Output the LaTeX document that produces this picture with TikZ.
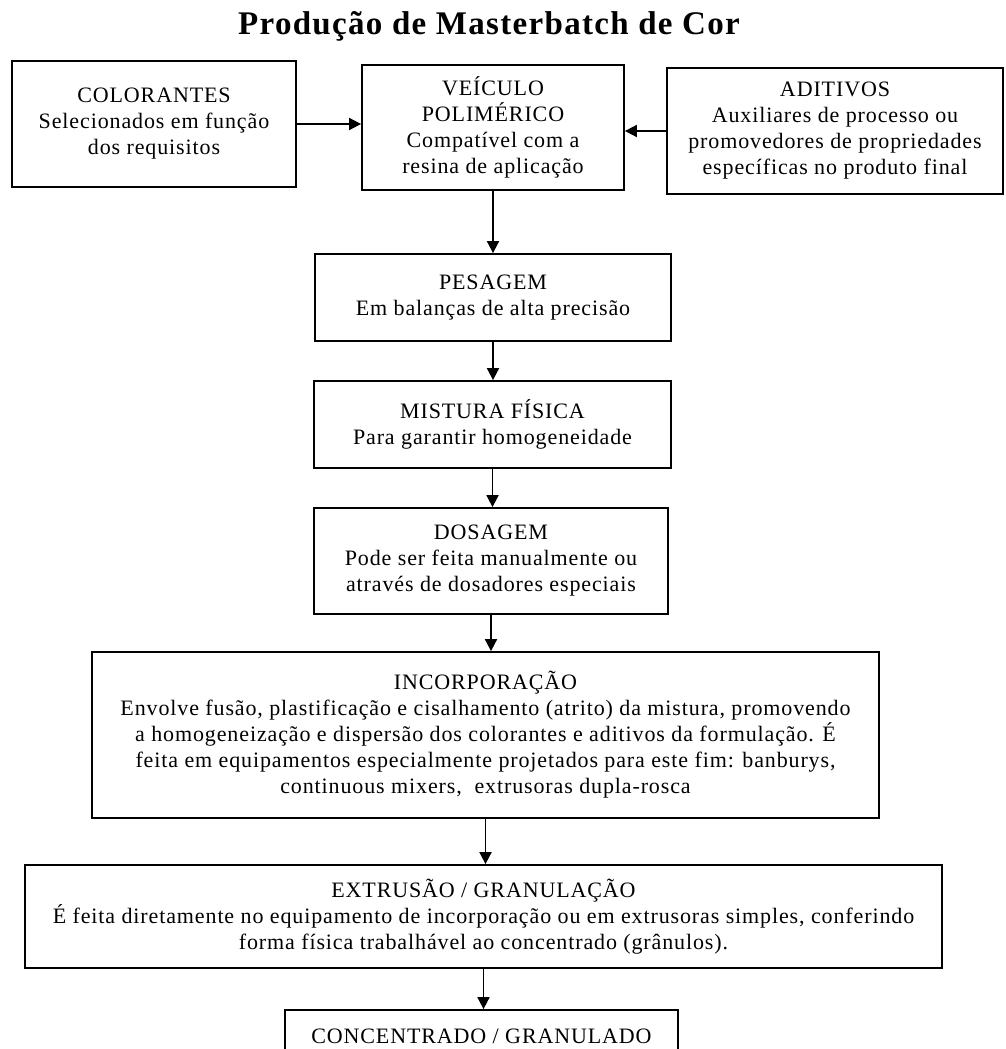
\documentclass[tikz,border=0pt]{standalone}
\usepackage{fontspec}
\setmainfont{Liberation Serif}[LetterSpace=4.0]
\usetikzlibrary{arrows.meta, positioning}
\newcommand{\boxfont}{\fontsize{22}{26}\selectfont}
\newcommand{\titlefont}{\fontsize{33}{38}\selectfont\bfseries}

\begin{document}
\begin{tikzpicture}[x=1pt, y=-1pt,
    etapa/.style={draw, line width=1.8pt, align=center, inner sep=0pt, font=\boxfont},
    seta/.style={line width=1.8pt, -{Triangle[length=12pt, width=12pt]}}]
    \useasboundingbox (0, 0) rectangle (1005, 1049);
    \clip (0, 0) rectangle (1005, 1049);
    \node (titulo) at (489, 26) {\titlefont Produção de Masterbatch de Cor};
    \node[etapa, minimum width=284pt, minimum height=126pt] (colorantes) at (154, 124)
        {COLORANTES\\Selecionados em função\\dos requisitos};
    \node[etapa, minimum width=262pt, minimum height=125pt] (veiculo) at (493, 127.5)
        {VEÍCULO\\POLIMÉRICO\\Compatível com a\\resina de aplicação};
    \node[etapa, minimum width=336pt, minimum height=126pt] (aditivos) at (835, 131)
        {ADITIVOS\\Auxiliares de processo ou\\promovedores de propriedades\\específicas no produto final};
    \node[etapa, minimum width=356pt, minimum height=87pt] (pesagem) at (493, 297.5)
        {PESAGEM\\Em balanças de alta precisão};
    \node[etapa, minimum width=357pt, minimum height=87pt] (mistura) at (492.5, 424.5)
        {MISTURA FÍSICA\\Para garantir homogeneidade};
    \node[etapa, minimum width=354pt, minimum height=106pt] (dosagem) at (491, 561)
        {DOSAGEM\\Pode ser feita manualmente ou\\através de dosadores especiais};
    \node[etapa, minimum width=787pt, minimum height=166pt] (incorporacao) at (485.5, 735)
        {INCORPORAÇÃO\\Envolve fusão, plastificação e cisalhamento (atrito) da mistura, promovendo\\a homogeneização e dispersão dos colorantes e aditivos da formulação. É\\feita em equipamentos especialmente projetados para este fim: banburys,\\continuous mixers,~ extrusoras dupla-rosca};
    \node[etapa, minimum width=917pt, minimum height=103pt] (extrusao) at (483.5, 916.5)
        {EXTRUSÃO / GRANULAÇÃO\\É feita diretamente no equipamento de incorporação ou em extrusoras simples, conferindo\\forma física trabalhável ao concentrado (grânulos).};
    \node[etapa, minimum width=393pt, minimum height=52pt] (concentrado) at (481.5, 1036)
        {CONCENTRADO / GRANULADO};
    \draw[seta] (colorantes.east) -- (colorantes.east -| veiculo.west);
    \draw[seta] (aditivos.west) -- (aditivos.west -| veiculo.east);
    \draw[seta] (veiculo.south) -- (veiculo.south |- pesagem.north);
    \draw[seta] (pesagem.south) -- (pesagem.south |- mistura.north);
    \draw[seta] (mistura.south) -- (mistura.south |- dosagem.north);
    \draw[seta] (dosagem.south) -- (dosagem.south |- incorporacao.north);
    \draw[seta] (incorporacao.south) -- (incorporacao.south |- extrusao.north);
    \draw[seta] (extrusao.south) -- (extrusao.south |- concentrado.north);
\end{tikzpicture}
\end{document}
